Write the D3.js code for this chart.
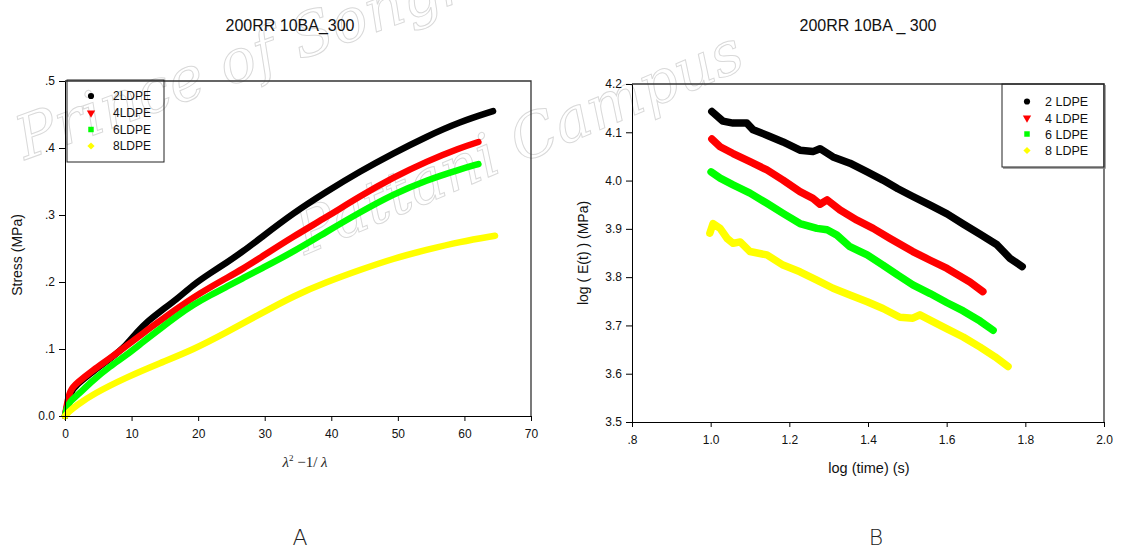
<!DOCTYPE html>
<html>
<head>
<meta charset="utf-8">
<script src="https://cdn.jsdelivr.net/npm/d3@7"></script>
<style>
  html, body { margin: 0; padding: 0; background: #ffffff; }
  svg { display: block; }
</style>
</head>
<body>
<svg id="chart" width="1122" height="550"></svg>
<script>
// ---------- series names and colours ----------
const seriesLabelsA = ["2LDPE", "4LDPE", "6LDPE", "8LDPE"];
const seriesLabelsB = ["2 LDPE", "4 LDPE", "6 LDPE", "8 LDPE"];
const seriesColors = ["#000000", "#ff0000", "#00ff00", "#ffff00"];

// ---------- panel A: stress vs (lambda^2 - 1/lambda) ----------
const stressLDPE2 = [[0,0],[0.75,0.036],[1.75,0.047],[4.26,0.067],[6.76,0.085],[9.26,0.106],[10.77,0.125],[12.5,0.142],[14.27,0.156],[16.77,0.174],[19.27,0.196],[21.78,0.213],[24.29,0.229],[26.79,0.246],[29.29,0.265],[34.3,0.303],[39.3,0.335],[44.3,0.365],[49.3,0.392],[54.3,0.417],[59.3,0.439],[64.3,0.455]];
const stressLDPE4 = [[0,0],[0.25,0.016],[0.75,0.039],[1.75,0.049],[4.26,0.069],[6.76,0.086],[9.26,0.105],[11.77,0.124],[14.27,0.142],[16.77,0.160],[19.27,0.177],[21.78,0.192],[24.29,0.206],[26.79,0.220],[29.29,0.236],[34.3,0.268],[39.3,0.297],[44.3,0.328],[49.3,0.356],[54.3,0.380],[59.3,0.400],[62.1,0.409]];
const stressLDPE6 = [[0,0],[0.25,0.012],[0.75,0.022],[1.75,0.030],[4.26,0.054],[6.76,0.074],[9.26,0.091],[11.77,0.111],[14.27,0.130],[16.77,0.149],[19.27,0.166],[21.78,0.180],[24.29,0.193],[26.79,0.206],[29.29,0.219],[34.3,0.245],[39.3,0.275],[44.3,0.304],[49.3,0.331],[54.3,0.352],[59.3,0.368],[62.1,0.376]];
const stressLDPE8 = [[0,0],[0.5,0.006],[1.75,0.016],[4.26,0.033],[9.26,0.058],[14.27,0.079],[19.27,0.099],[24.29,0.125],[29.29,0.152],[34.3,0.179],[39.3,0.200],[44.3,0.218],[49.3,0.235],[54.3,0.248],[59.3,0.260],[64.6,0.269]];

const strainTicks = [0, 10, 20, 30, 40, 50, 60, 70];
const stressTicks = [0, 0.1, 0.2, 0.3, 0.4, 0.5];
const stressTickLabels = ["0.0", ".1", ".2", ".3", ".4", ".5"];

// ---------- panel B: log E(t) vs log time ----------
const modLDPE2 = [[1.003,4.143],[1.031,4.123],[1.057,4.119],[1.092,4.119],[1.108,4.105],[1.143,4.094],[1.184,4.080],[1.227,4.063],[1.260,4.060],[1.278,4.066],[1.311,4.049],[1.354,4.036],[1.398,4.018],[1.438,4.001],[1.476,3.983],[1.514,3.967],[1.558,3.949],[1.601,3.931],[1.642,3.910],[1.685,3.889],[1.728,3.867],[1.761,3.839],[1.792,3.822]];
const modLDPE4 = [[1.003,4.086],[1.024,4.070],[1.057,4.056],[1.100,4.039],[1.143,4.022],[1.184,4.001],[1.227,3.977],[1.260,3.963],[1.278,3.951],[1.296,3.960],[1.329,3.939],[1.372,3.918],[1.413,3.901],[1.456,3.880],[1.514,3.853],[1.558,3.835],[1.601,3.818],[1.659,3.790],[1.692,3.770]];
const modLDPE6 = [[1.001,4.018],[1.024,4.005],[1.057,3.991],[1.100,3.974],[1.143,3.953],[1.184,3.932],[1.227,3.911],[1.270,3.901],[1.296,3.898],[1.321,3.887],[1.354,3.863],[1.398,3.846],[1.438,3.825],[1.476,3.804],[1.514,3.784],[1.558,3.766],[1.601,3.747],[1.642,3.730],[1.685,3.709],[1.718,3.690]];
const modLDPE8 = [[0.998,3.891],[1.006,3.911],[1.024,3.901],[1.042,3.880],[1.057,3.870],[1.075,3.873],[1.100,3.853],[1.143,3.846],[1.184,3.825],[1.227,3.811],[1.270,3.794],[1.311,3.777],[1.354,3.763],[1.398,3.749],[1.438,3.735],[1.481,3.717],[1.514,3.715],[1.532,3.722],[1.565,3.708],[1.601,3.693],[1.642,3.676],[1.685,3.655],[1.723,3.635],[1.756,3.615]];

const timeTicks = [0.8, 1.0, 1.2, 1.4, 1.6, 1.8, 2.0];
const timeTickLabels = [".8", "1.0", "1.2", "1.4", "1.6", "1.8", "2.0"];
const modTicks = [3.5, 3.6, 3.7, 3.8, 3.9, 4.0, 4.1, 4.2];
const modTickLabels = ["3.5", "3.6", "3.7", "3.8", "3.9", "4.0", "4.1", "4.2"];

// ---------- drawing ----------
const svg = d3.select("#chart");
const SANS = "'Liberation Sans', Arial, sans-serif";

const xA = d3.scaleLinear().domain([0, 70]).range([65, 531]);
const yA = d3.scaleLinear().domain([0, 0.5]).range([416, 81]);
const xB = d3.scaleLinear().domain([0.8, 2.0]).range([632, 1104]);
const yB = d3.scaleLinear().domain([3.5, 4.2]).range([422, 84]);

const markerSymbols = [
  { type: d3.symbolCircle, size: 30, rot: 0 },
  { type: d3.symbolTriangle, size: 30, rot: 180 },
  { type: d3.symbolSquare, size: 30, rot: 0 },
  { type: d3.symbolSquare, size: 26, rot: 45 }
];

// faint outlined campus stamp, drawn beneath the charts
const stamp = svg.append("g").attr("pointer-events", "none");
[["Prince of Songkla", 25, 160, -20, 60], ["Pattani Campus", 305, 255, -23, 60]].forEach(([txt, tx, ty, rot, fs]) => {
  stamp.append("text")
    .attr("transform", `translate(${tx},${ty}) rotate(${rot})`)
    .attr("font-family", "'DejaVu Serif', serif")
    .attr("font-style", "italic")
    .attr("font-size", fs)
    .attr("fill", "none")
    .attr("stroke", "#d9d9d9")
    .attr("stroke-width", 1)
    .text(txt);
});

function styleAxis(g, fontSize) {
  g.select(".domain").attr("stroke", "#000").attr("stroke-width", 1);
  g.selectAll(".tick line").attr("stroke", "#000").attr("stroke-width", 1);
  g.selectAll(".tick text")
    .attr("font-family", SANS)
    .attr("font-size", fontSize)
    .attr("fill", "#111");
}

function drawPanel(opts) {
  const { x, y, series, curve, width } = opts;
  const [x0, x1] = x.range();
  const [y0, y1] = y.range();

  // plot frame (top and right sides)
  svg.append("path")
    .attr("d", `M${x0},${y1}H${x1}V${y0}`)
    .attr("fill", "none")
    .attr("stroke", "#333")
    .attr("stroke-width", 1.3);

  const line = d3.line().x(d => x(d[0])).y(d => y(d[1])).curve(curve);
  const g = svg.append("g");
  series.forEach((s, i) => {
    g.append("path")
      .attr("d", line(s))
      .attr("fill", "none")
      .attr("stroke", seriesColors[i])
      .attr("stroke-width", width)
      .attr("stroke-linecap", "round")
      .attr("stroke-linejoin", "round");
  });

  const gx = svg.append("g")
    .attr("transform", `translate(0,${y0})`)
    .call(d3.axisBottom(x).tickValues(opts.xTicks).tickFormat((d, i) => opts.xLabels[i])
      .tickSize(5).tickSizeOuter(0).tickPadding(8));
  styleAxis(gx, opts.fontSize);

  const gy = svg.append("g")
    .attr("transform", `translate(${x0},0)`)
    .call(d3.axisLeft(y).tickValues(opts.yTicks).tickFormat((d, i) => opts.yLabels[i])
      .tickSize(6).tickSizeOuter(0).tickPadding(4));
  styleAxis(gy, opts.fontSize);
}

function drawLegend(box, labels, markerX, textX, rows, fontSize, shadow) {
  const [bx0, by0, bx1, by1] = box;
  if (shadow) {
    svg.append("path")
      .attr("d", `M${bx0 + 1},${by1 + 1}H${bx1 + 1}V${by0 + 1}`)
      .attr("fill", "none").attr("stroke", "#888").attr("stroke-width", 1.5);
  }
  svg.append("rect")
    .attr("x", bx0).attr("y", by0)
    .attr("width", bx1 - bx0).attr("height", by1 - by0)
    .attr("fill", "none").attr("stroke", "#222").attr("stroke-width", 1);
  labels.forEach((lab, i) => {
    const m = markerSymbols[i];
    svg.append("path")
      .attr("d", d3.symbol().type(m.type).size(m.size)())
      .attr("transform", `translate(${markerX},${rows[i]}) rotate(${m.rot})`)
      .attr("fill", seriesColors[i]);
    svg.append("text")
      .attr("x", textX).attr("y", rows[i] + fontSize * 0.36)
      .attr("font-family", SANS).attr("font-size", fontSize)
      .attr("fill", "#111")
      .text(lab);
  });
}

// Panel A
drawPanel({
  x: xA, y: yA, curve: d3.curveBasis, width: 6.5,
  series: [stressLDPE2, stressLDPE4, stressLDPE6, stressLDPE8],
  xTicks: strainTicks, xLabels: strainTicks.map(String),
  yTicks: stressTicks, yLabels: stressTickLabels, fontSize: 12
});
drawLegend([67, 80, 164, 162], seriesLabelsA, 91, 113, [96, 113, 129.5, 146], 12, false);

// Panel B
drawPanel({
  x: xB, y: yB, curve: d3.curveLinear, width: 7.5,
  series: [modLDPE2, modLDPE4, modLDPE6, modLDPE8],
  xTicks: timeTicks, xLabels: timeTickLabels,
  yTicks: modTicks, yLabels: modTickLabels, fontSize: 12
});
drawLegend([1002, 84, 1104, 167], seriesLabelsB, 1027, 1045, [101.5, 118, 134, 150.5], 12.5, true);

// titles
svg.append("text").attr("x", 290).attr("y", 31).attr("text-anchor", "middle")
  .attr("font-family", SANS).attr("font-size", 16).attr("fill", "#111")
  .text("200RR 10BA_300");
svg.append("text").attr("x", 868).attr("y", 31).attr("text-anchor", "middle")
  .attr("font-family", SANS).attr("font-size", 16).attr("fill", "#111")
  .text("200RR 10BA _ 300");

// axis titles
svg.append("text")
  .attr("transform", "translate(22,255) rotate(-90)")
  .attr("text-anchor", "middle")
  .attr("font-family", SANS).attr("font-size", 14).attr("fill", "#111")
  .text("Stress (MPa)");

const xt = svg.append("text")
  .attr("x", 305).attr("y", 467).attr("text-anchor", "middle")
  .attr("font-family", "'Liberation Serif', 'Times New Roman', serif")
  .attr("font-size", 15).attr("fill", "#222");
xt.append("tspan").attr("font-style", "italic").text("\u03bb");
xt.append("tspan").attr("font-size", 9).attr("dy", -6).text("2");
xt.append("tspan").attr("dy", 6).text(" \u22121/ ");
xt.append("tspan").attr("font-style", "italic").text("\u03bb");

svg.append("text")
  .attr("transform", "translate(588,253) rotate(-90)")
  .attr("text-anchor", "middle")
  .attr("font-family", SANS).attr("font-size", 14).attr("fill", "#111")
  .text("log ( E(t) ) (MPa)");
svg.append("text")
  .attr("x", 869).attr("y", 473).attr("text-anchor", "middle")
  .attr("font-family", SANS).attr("font-size", 14.5).attr("fill", "#111")
  .text("log (time) (s)");

// panel letters
svg.append("text").attr("x", 300).attr("y", 545).attr("text-anchor", "middle")
  .attr("font-family", "'DejaVu Sans', sans-serif").attr("font-weight", 300)
  .attr("font-size", 22).attr("fill", "#222").text("A");
svg.append("text").attr("x", 876).attr("y", 545).attr("text-anchor", "middle")
  .attr("font-family", "'DejaVu Sans', sans-serif").attr("font-weight", 300)
  .attr("font-size", 22).attr("fill", "#222").text("B");
</script>
</body>
</html>
